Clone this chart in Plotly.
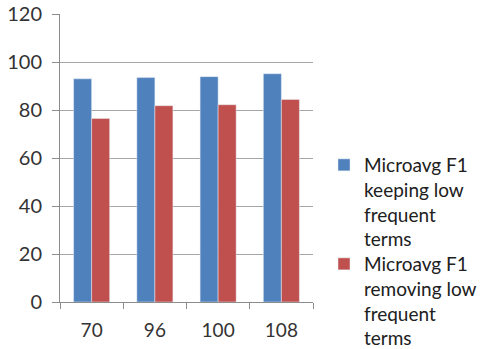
import plotly.graph_objects as go

categories = ["70", "96", "100", "108"]
keeping = [93.0, 93.5, 93.9, 95.1]
removing = [76.5, 81.8, 82.2, 84.4]
names = ["Microavg F1<br>keeping low<br>frequent<br>terms",
         "Microavg F1<br>removing low<br>frequent<br>terms"]
y_ticks = [0, 20, 40, 60, 80, 100, 120]

font = "Lato, 'Open Sans', sans-serif"

fig = go.Figure()
fig.add_bar(x=categories, y=keeping, name=names[0], marker_color="#4F81BD", legend="legend")
fig.add_bar(x=categories, y=removing, name=names[1], marker_color="#C0504D", legend="legend2")

leg_common = dict(xref="container", yref="container", xanchor="left", yanchor="top",
                  valign="top", font=dict(family=font, size=19, color="#202020"),
                  itemwidth=30, maxheight=200, bgcolor="rgba(0,0,0,0)")

fig.update_layout(
    width=482, height=349,
    margin=dict(l=60, r=169, t=14, b=47, autoexpand=False),
    paper_bgcolor="white", plot_bgcolor="white",
    barmode="group", bargap=0.43, bargroupgap=0,
    font=dict(family=font, size=16, color="#333333"),
    showlegend=True,
    legend=dict(x=324/482, y=1-146/349, **leg_common),
    legend2=dict(x=324/482, y=1-245/349, **leg_common),
)
fig.update_xaxes(type="category", showline=True, linecolor="#8c8c8c", linewidth=1,
                 ticks="outside", tickson="boundaries", ticklen=6, tickcolor="#8c8c8c",
                 showgrid=False, tickfont=dict(size=19), ticklabelstandoff=11)
fig.update_yaxes(range=[0, 120], tickvals=y_ticks, showline=True, linecolor="#8c8c8c",
                 linewidth=1, ticks="outside", ticklen=7, tickcolor="#8c8c8c",
                 showgrid=True, gridcolor="#a6a6a6", gridwidth=1, zeroline=False,
                 tickfont=dict(size=20), ticklabelstandoff=6)

fig.write_html("out.html")
